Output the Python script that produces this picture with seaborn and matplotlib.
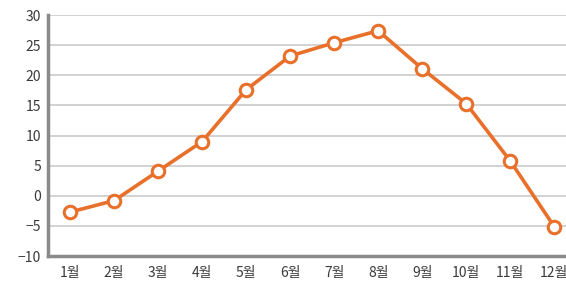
import pandas as pd
import matplotlib.pyplot as plt
import seaborn as sns

# 월별 값
months = ["1월", "2월", "3월", "4월", "5월", "6월", "7월", "8월", "9월", "10월", "11월", "12월"]
values = [-2.7, -0.8, 4.1, 9.0, 17.6, 23.2, 25.4, 27.4, 21.1, 15.3, 5.8, -5.1]
yticks = [-10, -5, 0, 5, 10, 15, 20, 25, 30]

df = pd.DataFrame({"월": months, "값": values})

sns.set_style("white")
plt.rcParams["font.family"] = ["Noto Sans CJK KR", "DejaVu Sans"]

fig = plt.figure(figsize=(5.66, 2.89), dpi=100)
ax = fig.add_axes([0.085, 0.114, 0.933, 0.834])

sns.lineplot(data=df, x="월", y="값", sort=False, ax=ax, color="#e8702a",
             linewidth=2.6, marker="o", markersize=9, markerfacecolor="white",
             markeredgecolor="#e8702a", markeredgewidth=2.2, zorder=3)

ax.set_xlim(-0.5, len(months) - 0.5)
ax.set_ylim(-10, 30)
ax.set_yticks(yticks)
ax.yaxis.grid(True, color="#cfcfcf", linewidth=1.3)
ax.set_axisbelow(True)
ax.set_xlabel("")
ax.set_ylabel("")
ax.tick_params(axis="both", length=0, labelsize=10, colors="#3a3a3a")
ax.tick_params(axis="x", pad=7)
ax.tick_params(axis="y", pad=5)

for s in ["top", "right"]:
    ax.spines[s].set_visible(False)
for s in ["left", "bottom"]:
    ax.spines[s].set_color("#8a8a8a")
    ax.spines[s].set_linewidth(2.5)

fig.savefig("out.png", dpi=100)
